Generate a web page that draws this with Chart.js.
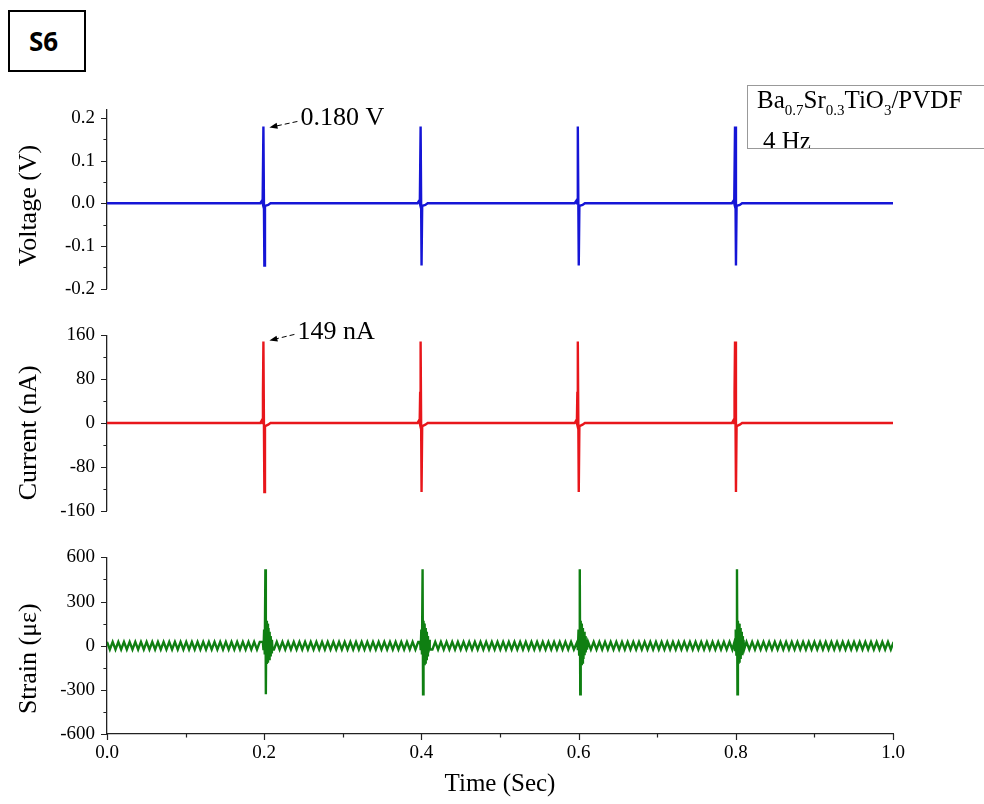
<!DOCTYPE html>
<html>
<head>
<meta charset="utf-8">
<script src="https://cdn.jsdelivr.net/npm/chart.js@4.4.1/dist/chart.umd.min.js"></script>
<style>
  html, body { margin:0; padding:0; background:#fff; }
  body { width:984px; height:804px; position:relative; overflow:hidden; font-family:'Liberation Serif','Times New Roman',serif; color:#000; }
  canvas { position:absolute; left:0; }
  #tag { position:absolute; left:8px; top:10px; width:67px; height:58px; padding-right:7px; border:2px solid #000;
         font:bold 26px 'Noto Sans',sans-serif; display:flex; align-items:center; justify-content:center; }
  #legend { position:absolute; left:747px; top:85px; width:260px; height:62px; border:1px solid #999; overflow:hidden; font-size:25px; }
  #legend .l1 { position:absolute; left:9px; top:1px; line-height:25px; white-space:nowrap; }
  #legend .l2 { position:absolute; left:15px; top:42px; line-height:25px; white-space:nowrap; }
  #legend sub { font-size:15px; vertical-align:-7px; line-height:0; }
</style>
</head>
<body>
<div id="tag">S6</div>
<canvas id="voltageChart" width="984" height="226" style="top:86px"></canvas>
<canvas id="currentChart" width="984" height="222" style="top:312px"></canvas>
<canvas id="strainChart" width="984" height="270" style="top:534px"></canvas>
<div id="legend">
  <div class="l1">Ba<sub>0.7</sub>Sr<sub>0.3</sub>TiO<sub>3</sub>/PVDF</div>
  <div class="l2">4 Hz</div>
</div>
<script>
const timeTicks = [0, 0.2, 0.4, 0.6, 0.8, 1.0];
const timeLabels = ["0.0","0.2","0.4","0.6","0.8","1.0"];
const voltageTicks = [-0.2, -0.1, 0, 0.1, 0.2];
const voltageLabels = ["-0.2","-0.1","0.0","0.1","0.2"];
const currentTicks = [-160, -80, 0, 80, 160];
const currentLabels = ["-160","-80","0","80","160"];
const strainTicks = [-600, -300, 0, 300, 600];
const strainLabels = ["-600","-300","0","300","600"];

// pulse events (sec)
const pulseTimes = [0.199, 0.399, 0.599, 0.799];
const strainPulseTimes = [0.2015, 0.4015, 0.6015, 0.8015];

const voltagePulseDt = [-0.004, -0.0018, -0.001, 0, 0.0012, 0.002, 0.006, 0.009];
const voltagePulse   = [0, 0.006, 0, 0.180, -0.146, -0.006, -0.004, 0];

const currentPulseDt = [-0.004, -0.002, -0.0012, -0.0006, 0, 0.0012, 0.002, 0.006, 0.009];
const currentPulse   = [0, 5, 0, 55, 149, -126, -6, -3, 0];

const strainPulseDt = [-0.0032, -0.0024, -0.0016, -0.0008, 0, 0.0006, 0.0012, 0.0019, 0.0026,
                       0.0033, 0.004, 0.0047, 0.0054, 0.0061, 0.0068, 0.0075, 0.0083, 0.0091];
const strainPulse   = [26, -30, 110, -60, 520, -330, 170, -125, 150,
                       -115, 120, -90, 95, -65, 65, -45, 40, -26];

// background ripple of the strain gauge, one value every half period
const strainRippleStep = 0.0036;
const strainRipple = [
  26,-26,26,-26,26,-26,26,-26,26,-26,26,-26,26,-26,26,-26,26,-26,26,-26,
  26,-26,26,-26,26,-26,26,-26,26,-26,26,-26,26,-26,26,-26,26,-26,26,-26,
  26,-26,26,-26,26,-26,26,-26,26,-26,26,-26,26,-26,26,-26,26,-26,26,-26,
  26,-26,26,-26,26,-26,26,-26,26,-26,26,-26,26,-26,26,-26,26,-26,26,-26,
  26,-26,26,-26,26,-26,26,-26,26,-26,26,-26,26,-26,26,-26,26,-26,26,-26,
  26,-26,26,-26,26,-26,26,-26,26,-26,26,-26,26,-26,26,-26,26,-26,26,-26,
  26,-26,26,-26,26,-26,26,-26,26,-26,26,-26,26,-26,26,-26,26,-26,26,-26,
  26,-26,26,-26,26,-26,26,-26,26,-26,26,-26,26,-26,26,-26,26,-26,26,-26,
  26,-26,26,-26,26,-26,26,-26,26,-26,26,-26,26,-26,26,-26,26,-26,26,-26,
  26,-26,26,-26,26,-26,26,-26,26,-26,26,-26,26,-26,26,-26,26,-26,26,-26,
  26,-26,26,-26,26,-26,26,-26,26,-26,26,-26,26,-26,26,-26,26,-26,26,-26,
  26,-26,26,-26,26,-26,26,-26,26,-26,26,-26,26,-26,26,-26,26,-26,26,-26,
  26,-26,26,-26,26,-26,26,-26,26,-26,26,-26,26,-26,26,-26,26,-26,26,-26,
  26,-26,26,-26,26,-26,26,-26,26,-26,26,-26,26,-26,26,-26,26,-26,26,-26
];

const FONT = "'Liberation Serif','Times New Roman',serif";

function pulseTrain(times, dt, vals) {
  const pts = [{x: 0, y: 0}];
  times.forEach(t => dt.forEach((d, i) => pts.push({x: t + d, y: vals[i]})));
  pts.push({x: 1, y: 0});
  return pts;
}

function strainSeries() {
  const lo = strainPulseDt[0] - 0.001, hi = strainPulseDt[strainPulseDt.length - 1] + 0.001;
  const pts = [];
  strainRipple.forEach((v, i) => {
    const x = i * strainRippleStep;
    if (!strainPulseTimes.some(t => x > t + lo && x < t + hi)) pts.push({x, y: v});
  });
  strainPulseTimes.forEach(t => strainPulseDt.forEach((d, i) => pts.push({x: t + d, y: strainPulse[i]})));
  return pts.sort((a, b) => a.x - b.x);
}

/* origin style ticks: major + minor, pointing out */
const originTicks = {
  id: "originTicks",
  afterDraw(chart) {
    const ctx = chart.ctx;
    ctx.save();
    ctx.strokeStyle = "#222";
    ctx.lineWidth = 1.2;
    const mark = (scale, len) => {
      const vals = scale.ticks.map(t => t.value);
      const out = vals.map(v => [v, len]);
      for (let i = 0; i < vals.length - 1; i++) out.push([(vals[i] + vals[i+1]) / 2, len * 0.6]);
      return out;
    };
    const y = chart.scales.y, x = chart.scales.x;
    const left = chart.chartArea.left, bottom = chart.chartArea.bottom;
    ctx.beginPath();
    mark(y, 6).forEach(([v, l]) => {
      const p = Math.round(y.getPixelForValue(v)) + 0.5;
      ctx.moveTo(left, p); ctx.lineTo(left - l, p);
    });
    if (x.options.display) {
      mark(x, 6).forEach(([v, l]) => {
        const p = Math.round(x.getPixelForValue(v)) + 0.5;
        ctx.moveTo(p, bottom); ctx.lineTo(p, bottom + l);
      });
    }
    ctx.stroke();
    ctx.restore();
  }
};

/* peak value note with arrow */
const peakNote = {
  id: "peakNote",
  afterDatasetsDraw(chart, args, o) {
    if (!o || !o.text) return;
    const {ctx, scales: {x, y}} = chart;
    const px = x.getPixelForValue(o.t), py = y.getPixelForValue(o.v);
    ctx.save();
    ctx.font = "26px " + FONT;
    ctx.fillStyle = "#000";
    ctx.textBaseline = "middle";
    ctx.fillText(o.text, px + o.dx, py + o.dy);
    const x0 = px + o.ax, y0 = py + o.ay, x1 = px + o.tx, y1 = py + o.ty;
    const a = Math.atan2(y1 - y0, x1 - x0);
    ctx.strokeStyle = "#000";
    ctx.lineWidth = 1;
    ctx.setLineDash([5, 3]);
    ctx.beginPath();
    ctx.moveTo(x0, y0);
    ctx.lineTo(x1 - 6 * Math.cos(a), y1 - 6 * Math.sin(a));
    ctx.stroke();
    ctx.setLineDash([]);
    ctx.beginPath();
    ctx.moveTo(x1, y1);
    ctx.lineTo(x1 - 8 * Math.cos(a) + 3 * Math.sin(a), y1 - 8 * Math.sin(a) - 3 * Math.cos(a));
    ctx.lineTo(x1 - 8 * Math.cos(a) - 3 * Math.sin(a), y1 - 8 * Math.sin(a) + 3 * Math.cos(a));
    ctx.closePath();
    ctx.fillStyle = "#000";
    ctx.fill();
    ctx.restore();
  }
};

function panel(id, c) {
  return new Chart(document.getElementById(id), {
    type: "line",
    data: { datasets: [{ data: c.data, borderColor: c.color, borderWidth: 2.4, pointRadius: 0, tension: 0, fill: false }] },
    options: {
      responsive: false,
      animation: false,
      events: [],
      layout: { padding: { top: 20, bottom: c.padBottom, left: 0, right: 91 } },
      plugins: { legend: { display: false }, tooltip: { enabled: false }, peakNote: c.note || {} },
      scales: {
        x: {
          type: "linear", min: 0, max: 1, display: c.showX,
          afterBuildTicks: s => { s.ticks = timeTicks.map(v => ({ value: v })); },
          afterFit: s => { s.height = c.showX ? 70 : 0; },
          grid: { display: false, drawTicks: false },
          border: { display: true, color: "#222", width: 1.3 },
          ticks: { padding: 8, maxRotation: 0, autoSkip: false, color: "#000",
                   font: { family: FONT, size: 19 }, callback: (v, i) => timeLabels[i] },
          title: { display: true, text: "Time (Sec)", color: "#000", padding: { top: 0, bottom: 5 },
                   font: { family: FONT, size: 25 } }
        },
        y: {
          min: c.min, max: c.max,
          afterBuildTicks: s => { s.ticks = c.ticks.map(v => ({ value: v })); },
          afterFit: s => { s.width = 107; },
          grid: { display: false, drawTicks: false },
          border: { display: true, color: "#222", width: 1.3 },
          ticks: { padding: 12, color: "#000", font: { family: FONT, size: 19 },
                   callback: (v, i) => c.labels[i] },
          // trailing spaces push the title a little below the axis centre, as in the source
          title: { display: true, text: c.title + c.titleShift, color: "#000", padding: { top: 14, bottom: 0 },
                   font: { family: FONT, size: 26 } }
        }
      }
    },
    plugins: [originTicks, peakNote]
  });
}

panel("voltageChart", {
  data: pulseTrain(pulseTimes, voltagePulseDt, voltagePulse),
  color: "#1515d6", min: -0.2, max: 0.22, ticks: voltageTicks, labels: voltageLabels,
  title: "Voltage (V)", titleShift: "  ", showX: false, padBottom: 23,
  note: { text: "0.180 V", t: pulseTimes[0], v: voltagePulse[3], dx: 37, dy: -8, ax: 34, ay: -5, tx: 6, ty: 1 }
});

panel("currentChart", {
  data: pulseTrain(pulseTimes, currentPulseDt, currentPulse),
  color: "#e8161b", min: -160, max: 160, ticks: currentTicks, labels: currentLabels,
  title: "Current (nA)", titleShift: "   ", showX: false, padBottom: 21.5,
  note: { text: "149 nA", t: pulseTimes[0], v: currentPulse[4], dx: 34, dy: -9, ax: 31, ay: -7, tx: 6, ty: -1 }
});

panel("strainChart", {
  data: strainSeries(),
  color: "#0f7f12", min: -600, max: 600, ticks: strainTicks, labels: strainLabels,
  title: "Strain (με)", titleShift: "    ", showX: true, padBottom: 0
});
</script>
</body>
</html>
